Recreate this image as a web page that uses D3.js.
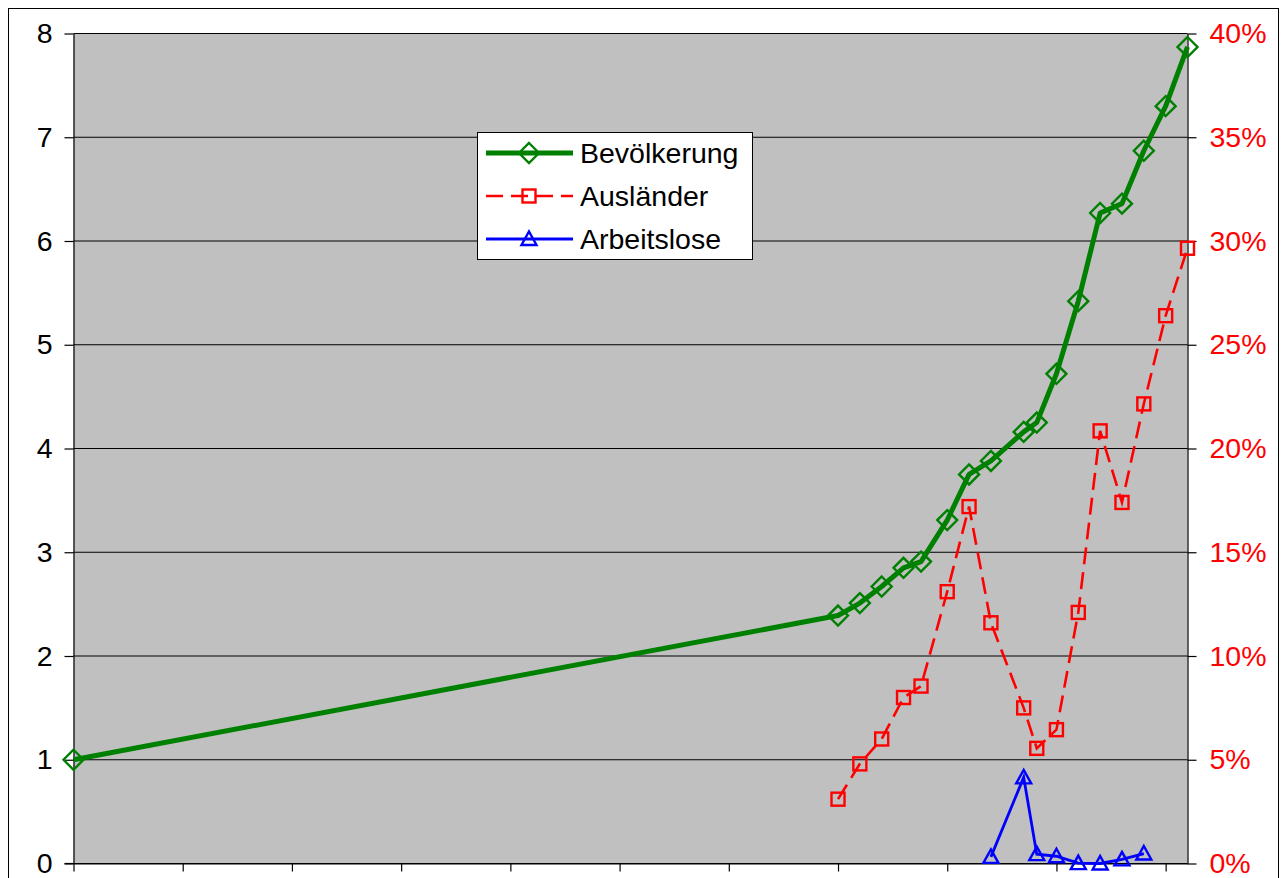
<!DOCTYPE html>
<html>
<head>
<meta charset="utf-8">
<script src="https://cdn.jsdelivr.net/npm/d3@7"></script>
<style>
  html, body { margin: 0; padding: 0; background: #fff; overflow: hidden; }
  svg text { font-family: "Liberation Sans", Arial, sans-serif; }
</style>
</head>
<body>
<svg id="chart" width="1282" height="878"></svg>
<script>
// Population index (start year = 1)
const popYears = [1500, 1850, 1860, 1870, 1880, 1888, 1900, 1910, 1920, 1935, 1941, 1950, 1960, 1970, 1980, 1990, 2000, 2010];
const popIndex = [1.0, 2.39, 2.51, 2.67, 2.85, 2.91, 3.31, 3.75, 3.88, 4.16, 4.25, 4.72, 5.42, 6.27, 6.36, 6.87, 7.30, 7.87];

// Share of foreigners, percent
const foreignYears = [1850, 1860, 1870, 1880, 1888, 1900, 1910, 1920, 1935, 1941, 1950, 1960, 1970, 1980, 1990, 2000, 2010];
const foreignShare = [3.1, 4.8, 6.0, 8.0, 8.55, 13.1, 17.2, 11.6, 7.5, 5.55, 6.45, 12.1, 20.85, 17.4, 22.15, 26.4, 29.65];

// Unemployment rate, percent
const joblessYears = [1920, 1935, 1941, 1950, 1960, 1970, 1980, 1990];
const joblessShare = [0.32, 4.15, 0.45, 0.35, 0.02, 0.0, 0.2, 0.48];

// Axis ticks
const xTicks = [1500, 1550, 1600, 1650, 1700, 1750, 1800, 1850, 1900, 1950, 2000];
const leftTicks = [0, 1, 2, 3, 4, 5, 6, 7, 8];
const rightTicks = [0, 5, 10, 15, 20, 25, 30, 35, 40];

const seriesNames = ["Bevölkerung", "Ausländer", "Arbeitslose"];

const svg = d3.select("#chart");
const plot = { left: 73.5, right: 1187.5, top: 33.5, bottom: 863.5 };

const x = d3.scaleLinear().domain([1500, 2010]).range([plot.left, plot.right]);
const yL = d3.scaleLinear().domain([0, 8]).range([plot.bottom, plot.top]);
const yR = d3.scaleLinear().domain([0, 40]).range([plot.bottom, plot.top]);

// Outer chart frame
svg.append("rect")
  .attr("x", 8.5).attr("y", 8.5).attr("width", 1270).attr("height", 900)
  .attr("fill", "#fff").attr("stroke", "#000").attr("stroke-width", 1);

// Plot background
svg.append("rect")
  .attr("x", plot.left).attr("y", plot.top)
  .attr("width", plot.right - plot.left).attr("height", plot.bottom - plot.top)
  .attr("fill", "#c0c0c0");

// Horizontal gridlines
svg.append("g").selectAll("line").data(leftTicks).join("line")
  .attr("x1", plot.left).attr("x2", plot.right)
  .attr("y1", d => yL(d)).attr("y2", d => yL(d))
  .attr("stroke", "#000").attr("stroke-width", 1);

// Axes
const fontSize = "28.5px";

const gLeft = svg.append("g").attr("transform", `translate(${plot.left},0)`)
  .call(d3.axisLeft(yL).tickValues(leftTicks).tickSize(9).tickSizeOuter(0).tickPadding(12));
gLeft.selectAll("text").attr("font-size", fontSize).attr("fill", "#000");

const gRight = svg.append("g").attr("transform", `translate(${plot.right},0)`)
  .call(d3.axisRight(yR).tickValues(rightTicks).tickFormat(d => d + "%").tickSize(9).tickSizeOuter(0).tickPadding(13));
gRight.selectAll("text").attr("font-size", fontSize).attr("fill", "#ff0000");

const gBottom = svg.append("g").attr("transform", `translate(0,${plot.bottom})`)
  .call(d3.axisBottom(x).tickValues(xTicks).tickFormat("").tickSize(8).tickSizeOuter(0));

[gLeft, gRight, gBottom].forEach(g => {
  g.selectAll("path.domain").attr("stroke", "#000").attr("stroke-width", 1.2);
  g.selectAll(".tick line").attr("stroke", "#000").attr("stroke-width", 1.2);
  g.attr("font-family", null);
});
// bottom axis line reaches the left tick stub
svg.append("line").attr("x1", plot.left - 9).attr("x2", plot.left)
  .attr("y1", plot.bottom).attr("y2", plot.bottom).attr("stroke", "#000").attr("stroke-width", 1.2);

// Marker shapes
function diamond(g, cx, cy) {
  g.append("path")
    .attr("d", `M${cx},${cy - 10}L${cx + 10},${cy}L${cx},${cy + 10}L${cx - 10},${cy}Z`)
    .attr("fill", "none").attr("stroke", "#008000").attr("stroke-width", 2.4);
}
function square(g, cx, cy) {
  g.append("rect").attr("x", cx - 6.5).attr("y", cy - 6.5).attr("width", 13).attr("height", 13)
    .attr("fill", "none").attr("stroke", "#ff0000").attr("stroke-width", 2.4);
}
function triangle(g, cx, cy) {
  g.append("path")
    .attr("d", `M${cx},${cy - 7.5}L${cx + 7.5},${cy + 6}L${cx - 7.5},${cy + 6}Z`)
    .attr("fill", "none").attr("stroke", "#0000ff").attr("stroke-width", 2.4);
}

// Population line
const popData = popYears.map((yr, i) => [yr, popIndex[i]]);
svg.append("path").datum(popData)
  .attr("d", d3.line().x(d => x(d[0])).y(d => yL(d[1])))
  .attr("fill", "none").attr("stroke", "#008000").attr("stroke-width", 5)
  .attr("stroke-linejoin", "round");
const gPop = svg.append("g");
popData.forEach(d => diamond(gPop, x(d[0]), yL(d[1])));

// Foreigners line
const forData = foreignYears.map((yr, i) => [yr, foreignShare[i]]);
svg.append("path").datum(forData)
  .attr("d", d3.line().x(d => x(d[0])).y(d => yR(d[1])))
  .attr("fill", "none").attr("stroke", "#ff0000").attr("stroke-width", 2.6)
  .attr("stroke-dasharray", "17,8");
const gFor = svg.append("g");
forData.forEach(d => square(gFor, x(d[0]), yR(d[1])));

// Unemployment line
const jobData = joblessYears.map((yr, i) => [yr, joblessShare[i]]);
svg.append("path").datum(jobData)
  .attr("d", d3.line().x(d => x(d[0])).y(d => yR(d[1])))
  .attr("fill", "none").attr("stroke", "#0000ff").attr("stroke-width", 2.8);
const gJob = svg.append("g");
jobData.forEach(d => triangle(gJob, x(d[0]), yR(d[1])));

// Legend
const lg = svg.append("g");
lg.append("rect").attr("x", 477.5).attr("y", 132.5).attr("width", 275).attr("height", 127)
  .attr("fill", "#fff").attr("stroke", "#000").attr("stroke-width", 1);
const rowsY = [153, 196, 239];
const lx1 = 486, lx2 = 573, lmx = 529;
// Bevölkerung
lg.append("line").attr("x1", lx1).attr("x2", lx2).attr("y1", rowsY[0]).attr("y2", rowsY[0])
  .attr("stroke", "#008000").attr("stroke-width", 5);
diamond(lg, lmx, rowsY[0]);
// Ausländer
lg.append("line").attr("x1", lx1).attr("x2", lx2).attr("y1", rowsY[1]).attr("y2", rowsY[1])
  .attr("stroke", "#ff0000").attr("stroke-width", 2.6).attr("stroke-dasharray", "17,8");
square(lg, lmx, rowsY[1]);
// Arbeitslose
lg.append("line").attr("x1", lx1).attr("x2", lx2).attr("y1", rowsY[2]).attr("y2", rowsY[2])
  .attr("stroke", "#0000ff").attr("stroke-width", 2.8);
triangle(lg, lmx, rowsY[2]);

lg.selectAll("text.lab").data(seriesNames).join("text")
  .attr("class", "lab")
  .attr("x", 580).attr("y", (d, i) => rowsY[i]).attr("dy", "0.35em")
  .attr("font-size", fontSize).attr("fill", "#000")
  .text(d => d);
</script>
</body>
</html>
